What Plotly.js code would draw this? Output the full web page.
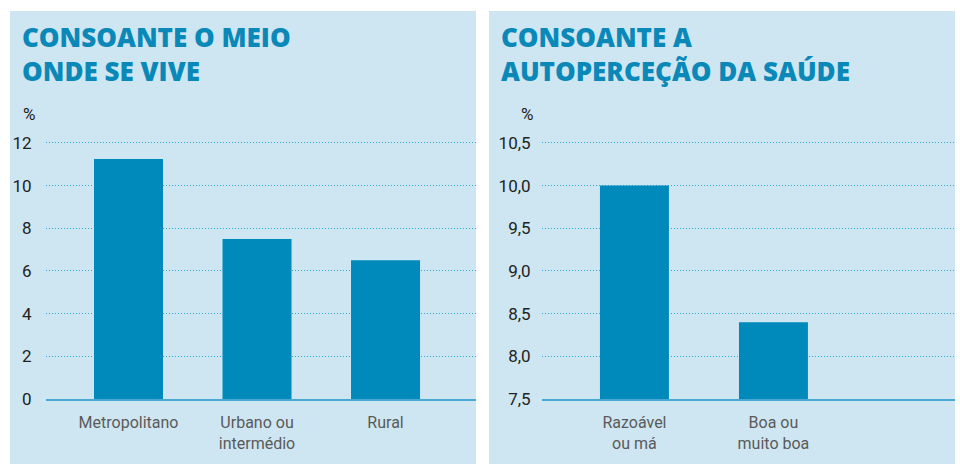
<!DOCTYPE html>
<html>
<head>
<meta charset="utf-8">
<script src="https://cdn.plot.ly/plotly-3.0.1.min.js"></script>
<style>
  body { margin: 0; background: #ffffff; }
  #chart { width: 960px; height: 465px; }
</style>
</head>
<body>
<div id="chart"></div>
<script>
// left panel: by place of residence
let meio_labels = ["Metropolitano", "Urbano ou<br>intermédio", "Rural"];
let meio_values = [11.25, 7.5, 6.5];
let meio_ticks = [0, 2, 4, 6, 8, 10, 12];

// right panel: by self-perceived health
let saude_labels = ["Razoável<br>ou má", "Boa ou<br>muito boa"];
let saude_values = [10.0, 8.4];
let saude_ticks = [7.5, 8.0, 8.5, 9.0, 9.5, 10.0, 10.5];

// panel titles
let meio_title = "CONSOANTE O MEIO<br>ONDE SE VIVE";
let saude_title = "CONSOANTE A<br>AUTOPERCEÇÃO DA SAÚDE";

let W = 960, H = 465;
let bar_color = "#0089bb";
let title_color = "#0a89b9";
let panel_bg = "#cee6f1";
let grid_color = "#2ea6d4";

function px(x) { return x / W; }
function py(y) { return (H - y) / H; }

let trace_meio = {
  x: meio_labels,
  y: meio_values,
  type: "bar",
  width: 0.537,
  marker: { color: bar_color },
  xaxis: "x",
  yaxis: "y",
  hoverinfo: "x+y"
};

let trace_saude = {
  x: saude_labels,
  y: saude_values,
  type: "bar",
  width: 0.496,
  marker: { color: bar_color },
  xaxis: "x2",
  yaxis: "y2",
  hoverinfo: "x+y"
};

let tick_font = { family: "Roboto, sans-serif", size: 17, color: "#222222" };
let cat_font = { family: "Roboto, sans-serif", size: 16, color: "#5a5a5a" };
let head_font = { family: "Open Sans, sans-serif", size: 26, weight: 800, color: title_color };

let layout = {
  width: W,
  height: H,
  margin: { l: 0, r: 0, t: 0, b: 0 },
  paper_bgcolor: "#ffffff",
  plot_bgcolor: "rgba(0,0,0,0)",
  showlegend: false,
  separators: ",.",
  xaxis: {
    domain: [px(46), px(476)],
    range: [-0.642, 2.704],
    showgrid: false,
    showline: true,
    linecolor: "#4aa9d2",
    linewidth: 2,
    ticks: "outside",
    ticklen: 8,
    tickcolor: "rgba(0,0,0,0)",
    tickfont: cat_font,
    fixedrange: true
  },
  yaxis: {
    domain: [py(399), py(128)],
    range: [0, 12.7],
    tickvals: meio_ticks,
    showgrid: true,
    gridcolor: grid_color,
    griddash: "1px,2px",
    gridwidth: 1,
    zeroline: false,
    ticks: "outside",
    ticklen: 10,
    tickcolor: "rgba(0,0,0,0)",
    tickfont: tick_font,
    fixedrange: true
  },
  xaxis2: {
    domain: [px(542), px(955)],
    range: [-0.665, 2.306],
    showgrid: false,
    showline: true,
    linecolor: "#4aa9d2",
    linewidth: 2,
    ticks: "outside",
    ticklen: 8,
    tickcolor: "rgba(0,0,0,0)",
    tickfont: cat_font,
    anchor: "y2",
    fixedrange: true
  },
  yaxis2: {
    domain: [py(399), py(128)],
    range: [7.5, 10.675],
    tickvals: saude_ticks,
    tickformat: ".1f",
    showgrid: true,
    gridcolor: grid_color,
    griddash: "1px,2px",
    gridwidth: 1,
    zeroline: false,
    ticks: "outside",
    ticklen: 7,
    tickcolor: "rgba(0,0,0,0)",
    tickfont: tick_font,
    anchor: "x2",
    fixedrange: true
  },
  shapes: [
    { type: "rect", xref: "paper", yref: "paper", layer: "below",
      x0: px(10), x1: px(476), y0: py(464), y1: py(11),
      fillcolor: panel_bg, line: { width: 0 } },
    { type: "rect", xref: "paper", yref: "paper", layer: "below",
      x0: px(489), x1: px(955), y0: py(464), y1: py(11),
      fillcolor: panel_bg, line: { width: 0 } }
  ],
  annotations: [
    { text: meio_title, xref: "paper", yref: "paper",
      x: px(20), y: py(54), xanchor: "left", yanchor: "middle", align: "left",
      showarrow: false, font: head_font },
    { text: saude_title, xref: "paper", yref: "paper",
      x: px(499), y: py(54), xanchor: "left", yanchor: "middle", align: "left",
      showarrow: false, font: head_font },
    { text: "%", xref: "paper", yref: "paper", x: px(21), y: py(114),
      xanchor: "left", yanchor: "middle", showarrow: false, font: tick_font },
    { text: "%", xref: "paper", yref: "paper", x: px(519), y: py(114),
      xanchor: "left", yanchor: "middle", showarrow: false, font: tick_font }
  ]
};

Plotly.newPlot("chart", [trace_meio, trace_saude], layout, { displayModeBar: false, staticPlot: true });
</script>
</body>
</html>
